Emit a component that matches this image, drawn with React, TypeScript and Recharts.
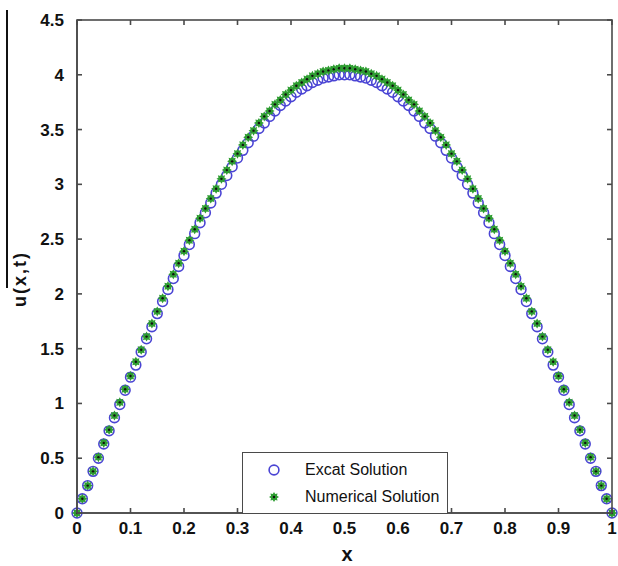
import React from "react";
import { ScatterChart, Scatter, XAxis, YAxis } from "recharts";

const xValues = [
	0, 0.01, 0.02, 0.03, 0.04, 0.05, 0.06, 0.07, 0.08, 0.09,
	0.1, 0.11, 0.12, 0.13, 0.14, 0.15, 0.16, 0.17, 0.18, 0.19,
	0.2, 0.21, 0.22, 0.23, 0.24, 0.25, 0.26, 0.27, 0.28, 0.29,
	0.3, 0.31, 0.32, 0.33, 0.34, 0.35, 0.36, 0.37, 0.38, 0.39,
	0.4, 0.41, 0.42, 0.43, 0.44, 0.45, 0.46, 0.47, 0.48, 0.49,
	0.5,
	0.51, 0.52, 0.53, 0.54, 0.55, 0.56, 0.57, 0.58, 0.59, 0.6,
	0.61, 0.62, 0.63, 0.64, 0.65, 0.66, 0.67, 0.68, 0.69, 0.7,
	0.71, 0.72, 0.73, 0.74, 0.75, 0.76, 0.77, 0.78, 0.79, 0.8,
	0.81, 0.82, 0.83, 0.84, 0.85, 0.86, 0.87, 0.88, 0.89, 0.9,
	0.91, 0.92, 0.93, 0.94, 0.95, 0.96, 0.97, 0.98, 0.99, 1,
];

const exactValues = [
	0, 0.13, 0.25, 0.38, 0.5, 0.63, 0.75, 0.87, 0.99, 1.12,
	1.24, 1.35, 1.47, 1.59, 1.7, 1.82, 1.93, 2.04, 2.14, 2.25,
	2.35, 2.45, 2.55, 2.65, 2.74, 2.83, 2.92, 3.0, 3.08, 3.16,
	3.24, 3.31, 3.38, 3.44, 3.51, 3.56, 3.62, 3.67, 3.72, 3.76,
	3.8, 3.84, 3.87, 3.9, 3.93, 3.95, 3.97, 3.98, 3.99, 4.0,
	4.0,
	4.0, 3.99, 3.98, 3.97, 3.95, 3.93, 3.9, 3.87, 3.84, 3.8,
	3.76, 3.72, 3.67, 3.62, 3.56, 3.51, 3.44, 3.38, 3.31, 3.24,
	3.16, 3.08, 3.0, 2.92, 2.83, 2.74, 2.65, 2.55, 2.45, 2.35,
	2.25, 2.14, 2.04, 1.93, 1.82, 1.7, 1.59, 1.47, 1.35, 1.24,
	1.12, 0.99, 0.87, 0.75, 0.63, 0.5, 0.38, 0.25, 0.13, 0,
];

const numericalValues = [
	0, 0.13, 0.25, 0.38, 0.51, 0.64, 0.76, 0.89, 1.01, 1.13,
	1.25, 1.38, 1.49, 1.61, 1.73, 1.84, 1.96, 2.07, 2.18, 2.28,
	2.39, 2.49, 2.59, 2.69, 2.78, 2.87, 2.96, 3.05, 3.13, 3.21,
	3.28, 3.36, 3.43, 3.49, 3.56, 3.62, 3.67, 3.73, 3.77, 3.82,
	3.86, 3.9, 3.93, 3.96, 3.99, 4.01, 4.03, 4.04, 4.05, 4.06,
	4.06,
	4.06, 4.05, 4.04, 4.03, 4.01, 3.99, 3.96, 3.93, 3.9, 3.86,
	3.82, 3.77, 3.73, 3.67, 3.62, 3.56, 3.49, 3.43, 3.36, 3.28,
	3.21, 3.13, 3.05, 2.96, 2.87, 2.78, 2.69, 2.59, 2.49, 2.39,
	2.28, 2.18, 2.07, 1.96, 1.84, 1.73, 1.61, 1.49, 1.38, 1.25,
	1.13, 1.01, 0.89, 0.76, 0.64, 0.51, 0.38, 0.25, 0.13, 0,
];

const xTicks = [0, 0.1, 0.2, 0.3, 0.4, 0.5, 0.6, 0.7, 0.8, 0.9, 1];
const yTicks = [0, 0.5, 1, 1.5, 2, 2.5, 3, 3.5, 4, 4.5];

const exactData = xValues.map((x, i) => ({ x, u: exactValues[i] }));
const numericalData = xValues.map((x, i) => ({ x, u: numericalValues[i] }));

// plot box (px), matches the chart margins below
const PLOT_LEFT = 77;
const PLOT_RIGHT = 612;
const PLOT_TOP = 20;
const PLOT_BOTTOM = 513;
const TICK_LEN = 5;

const FONT = "'Liberation Sans', Arial, sans-serif";
const AXIS_COLOR = "#4a4a4a";
const BLUE = "#4a44d4";
const GREEN = "#2f9e32";

const starPath = (cx: number, cy: number, outer: number, inner: number) => {
	let d = "";
	for (let k = 0; k < 16; k++) {
		const r = k % 2 === 0 ? outer : inner;
		const a = (Math.PI / 8) * k - Math.PI / 2;
		d += (k === 0 ? "M" : "L") + (cx + r * Math.cos(a)).toFixed(2) + "," + (cy + r * Math.sin(a)).toFixed(2);
	}
	return d + "Z";
};

const ExactMarker = (props: any) => {
	const { cx, cy } = props;
	return <circle cx={cx} cy={cy} r={4.9} fill="none" stroke={BLUE} strokeWidth={1.6} />;
};

const NumericalMarker = (props: any) => {
	const { cx, cy } = props;
	return (
		<g>
			<path d={starPath(cx, cy, 5, 3.2)} fill={GREEN} />
			<circle cx={cx} cy={cy} r={1.2} fill="#111" />
		</g>
	);
};

const textStyle = { fontFamily: FONT, fontSize: 17, fontWeight: 700, fill: "#111" };

// x tick: label plus inward tick marks on the bottom and top edges;
// the first tick also draws the box outline
const XTick = (props: any) => {
	const { x, y, payload, index } = props;
	return (
		<g>
			{index === 0 && (
				<rect
					x={PLOT_LEFT}
					y={PLOT_TOP}
					width={PLOT_RIGHT - PLOT_LEFT}
					height={PLOT_BOTTOM - PLOT_TOP}
					fill="none"
					stroke={AXIS_COLOR}
					strokeWidth={1.6}
				/>
			)}
			<line x1={x} x2={x} y1={PLOT_BOTTOM} y2={PLOT_BOTTOM - TICK_LEN} stroke={AXIS_COLOR} strokeWidth={1.6} />
			<line x1={x} x2={x} y1={PLOT_TOP} y2={PLOT_TOP + TICK_LEN} stroke={AXIS_COLOR} strokeWidth={1.6} />
			<text x={x} y={y} dy="0.71em" textAnchor="middle" {...textStyle}>
				{String(payload.value)}
			</text>
		</g>
	);
};

// y tick: label plus inward tick marks on the left and right edges
const YTick = (props: any) => {
	const { x, y, payload } = props;
	return (
		<g>
			<line x1={PLOT_LEFT} x2={PLOT_LEFT + TICK_LEN} y1={y} y2={y} stroke={AXIS_COLOR} strokeWidth={1.6} />
			<line x1={PLOT_RIGHT} x2={PLOT_RIGHT - TICK_LEN} y1={y} y2={y} stroke={AXIS_COLOR} strokeWidth={1.6} />
			<text x={x} y={y} dy="0.355em" textAnchor="end" {...textStyle}>
				{String(payload.value)}
			</text>
		</g>
	);
};

const ChartLegend = () => (
	<div
		style={{
			position: "absolute",
			left: 242,
			top: 452,
			boxSizing: "border-box",
			width: 206,
			height: 62,
			border: `1.6px solid ${AXIS_COLOR}`,
			background: "#fff",
			fontFamily: FONT,
			fontSize: 16,
			color: "#111",
			paddingTop: 3,
		}}
	>
		<div style={{ display: "flex", alignItems: "center", height: 27 }}>
			<svg width={62} height={20}>
				<ExactMarker cx={31} cy={10} />
			</svg>
			<span>Excat Solution</span>
		</div>
		<div style={{ display: "flex", alignItems: "center", height: 27 }}>
			<svg width={62} height={20}>
				<NumericalMarker cx={31} cy={10} />
			</svg>
			<span>Numerical Solution</span>
		</div>
	</div>
);

export default function App() {
	return (
		<div style={{ position: "absolute", left: 0, top: 0, width: 618, height: 566, background: "#fff" }}>
			<div style={{ position: "absolute", left: 6, top: 10, width: 2, height: 278, background: "#111" }} />
			<ScatterChart
				width={618}
				height={566}
				margin={{ top: PLOT_TOP, right: 618 - PLOT_RIGHT, bottom: 566 - PLOT_BOTTOM - 40, left: 0 }}
			>
				<XAxis
					dataKey="x"
					type="number"
					domain={[0, 1]}
					ticks={xTicks}
					height={40}
					tickLine={false}
					tickSize={0}
					tickMargin={9}
					stroke={AXIS_COLOR}
					strokeWidth={1.6}
					tick={<XTick />}
					label={() => (
						<text x={347} y={561} textAnchor="middle" fontFamily={FONT} fontSize={20} fontWeight={700} fill="#111">
							x
						</text>
					)}
				/>
				<YAxis
					dataKey="u"
					type="number"
					domain={[0, 4.5]}
					ticks={yTicks}
					width={PLOT_LEFT}
					tickLine={false}
					tickSize={0}
					tickMargin={13}
					stroke={AXIS_COLOR}
					strokeWidth={1.6}
					tick={<YTick />}
					label={() => (
						<text
							x={26}
							y={279}
							transform="rotate(-90 26 279)"
							textAnchor="middle"
							fontFamily={FONT}
							fontSize={18}
							fontWeight={700}
							letterSpacing={2}
							fill="#111"
						>
							u(x,t)
						</text>
					)}
				/>
				<Scatter name="Excat Solution" data={exactData} shape={<ExactMarker />} isAnimationActive={false} />
				<Scatter name="Numerical Solution" data={numericalData} shape={<NumericalMarker />} isAnimationActive={false} />
			</ScatterChart>
			<ChartLegend />
		</div>
	);
}
